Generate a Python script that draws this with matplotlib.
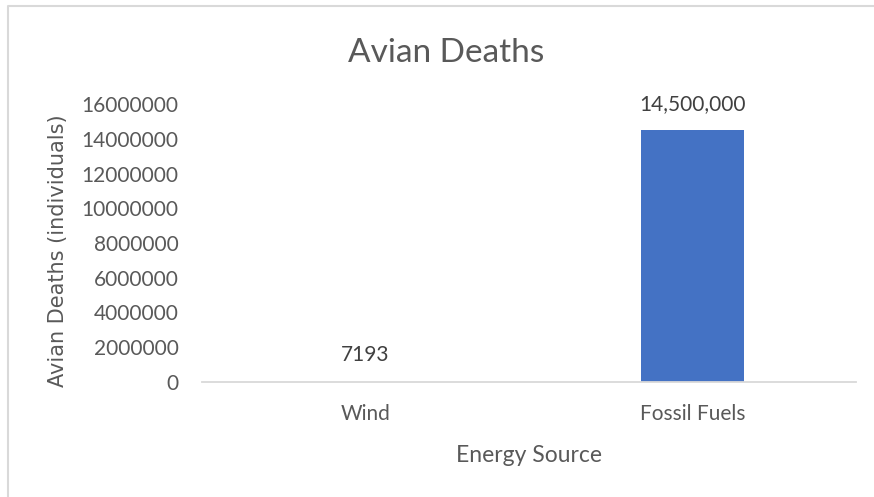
import matplotlib.pyplot as plt
from matplotlib.lines import Line2D

# Bird deaths attributed to each energy source
sources = ['Wind', 'Fossil Fuels']
deaths = [7193, 14500000]
value_labels = ['7193', '14,500,000']
y_ticks = list(range(0, 16000001, 2000000))

text_color = '#595959'
bar_color = '#4472C4'
plt.rcParams['font.family'] = ['Lato', 'DejaVu Sans']

fig = plt.figure(figsize=(8.74, 4.97), dpi=100)
ax = fig.add_axes([202 / 874, 1 - 382 / 497, (856 - 202) / 874, (382 - 104) / 497])

positions = list(range(len(sources)))
bars = ax.bar(positions, deaths, width=0.315, color=bar_color)
for bar, label in zip(bars, value_labels):
    ax.annotate(label, (bar.get_x() + bar.get_width() / 2, bar.get_height()),
                xytext=(0, 19), textcoords='offset points',
                ha='center', va='center', fontsize=15, color='#404040')

ax.set_xlim(-0.5, len(sources) - 0.5)
ax.set_ylim(0, 16000000)
ax.set_yticks(y_ticks)
ax.set_yticklabels([str(t) for t in y_ticks])
ax.set_xticks(positions)
ax.set_xticklabels(sources)
ax.tick_params(axis='both', length=0, labelsize=15, labelcolor=text_color)
ax.tick_params(axis='y', pad=17)
ax.tick_params(axis='x', pad=16)

for side in ['top', 'right', 'left']:
    ax.spines[side].set_visible(False)
ax.spines['bottom'].set_color('#D9D9D9')
ax.spines['bottom'].set_linewidth(1.3)

ax.set_xlabel('Energy Source', fontsize=16.5, color=text_color, labelpad=15)
fig.text(58 / 874, 1 - 251 / 497, 'Avian Deaths (individuals)', rotation=90,
         ha='center', va='center', fontsize=15, color=text_color,
         family='DejaVu Sans')

fig.text(446 / 874, 1 - 53 / 497, 'Avian Deaths', ha='center', va='center',
         fontsize=24, color=text_color)

# Chart frame (top and left edges)
fig.add_artist(Line2D([7.5 / 874, 7.5 / 874, 1], [0, 1 - 5.5 / 497, 1 - 5.5 / 497],
                      transform=fig.transFigure, color='#D9D9D9', linewidth=1.5))

fig.savefig('out.png', dpi=100)
